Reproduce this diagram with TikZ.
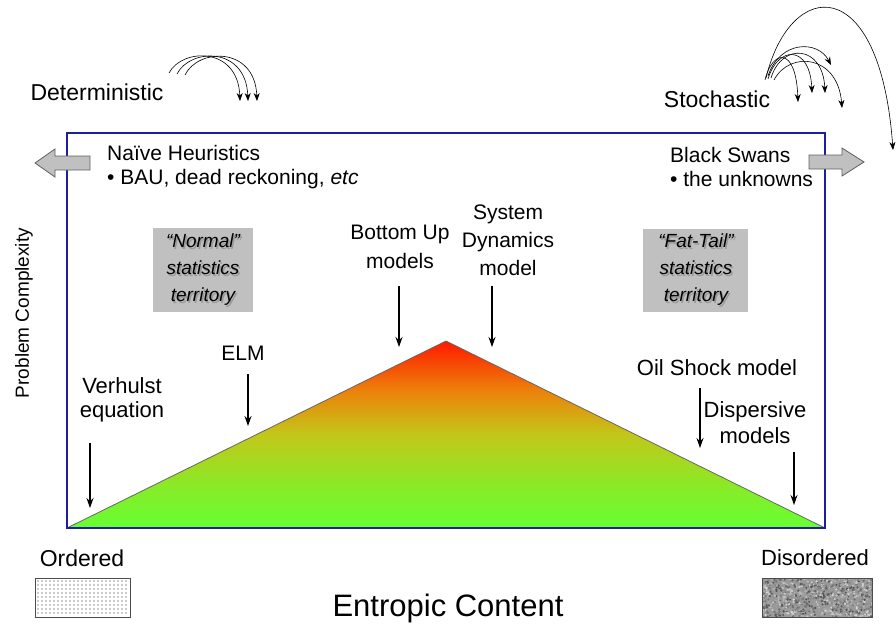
\documentclass[tikz,border=0pt]{standalone}
\usepackage{fontspec}
\setmainfont{Liberation Sans}
\usetikzlibrary{arrows.meta}
\definecolor{boxblue}{RGB}{30,30,160}
\definecolor{boxgray}{RGB}{192,192,192}
\definecolor{arrowedge}{RGB}{96,96,96}
\pgfdeclareverticalshading{trishade}{100bp}{%
  rgb(0bp)=(0.40,1.00,0.20);
  rgb(25bp)=(0.40,1.00,0.20);
  rgb(35bp)=(0.52,0.93,0.16);
  rgb(50bp)=(0.76,0.78,0.10);
  rgb(62bp)=(0.93,0.50,0.04);
  rgb(75bp)=(1.00,0.10,0.00);
  rgb(100bp)=(1.00,0.10,0.00)}
\begin{document}
\begin{tikzpicture}[x=1pt,y=-1pt,
  lbl/.style={align=center, inner sep=0pt, font=\fontsize{21}{26}\selectfont},
  biglbl/.style={inner sep=0pt, font=\fontsize{23}{27}\selectfont},
  ptr/.style={-{Stealth[length=10pt,width=7pt]}, line width=1.1pt},
  arcarrow/.style={-{Stealth[length=8pt,width=6pt]}, line width=0.6pt},
  stattext/.style={align=center, inner sep=0pt, font=\itshape\fontsize{19}{27}\selectfont},
  fatarrow/.style={draw=arrowedge, fill=boxgray, line width=0.8pt}]
\useasboundingbox (0,0) rectangle (896,629);

% triangle
\shade[shading=trishade]
  (67,528) -- (446,341) -- (825,528) -- cycle;
\draw[black!60, line width=0.8pt] (67,528) -- (446,341) -- (825,528);

% main frame
\draw[boxblue, line width=1.8pt] (67,133) rectangle (825,528);

% gray fat arrows
\draw[fatarrow] (35,163) -- (55,149) -- (55,156) -- (90,156) -- (90,170) -- (55,170) -- (55,177) -- cycle;
\draw[fatarrow] (864,162) -- (842,148) -- (842,155) -- (809,155) -- (809,169) -- (842,169) -- (842,176) -- cycle;

% top labels
\node[biglbl] (det) at (97,92) {Deterministic};
\node[biglbl] (sto) at (717,99) {Stochastic};

% deterministic arcs
\draw[arcarrow] (169,73) .. controls (182,48) and (238,46) .. (240,101);
\draw[arcarrow] (177,74) .. controls (190,48) and (246,46) .. (248,101);
\draw[arcarrow] (185,75) .. controls (198,48) and (255,46) .. (257,101);

% stochastic arcs
\draw[arcarrow] (765,80) .. controls (772,50) and (796,45) .. (798,102);
\draw[arcarrow] (768,79) .. controls (778,45) and (810,45) .. (812,93);
\draw[arcarrow] (771,78) .. controls (782,42) and (823,45) .. (825,93);
\draw[arcarrow] (774,80) .. controls (790,50) and (838,55) .. (842,108);
\draw[arcarrow] (768,76) .. controls (780,40) and (818,40) .. (831,65);
\draw[arcarrow] (766,78) .. controls (790,-22) and (880,-30) .. (893,150);

% heuristics / swans
\node[lbl, align=left, anchor=west] (naive) at (107,167) {Naïve Heuristics\\[-2pt]• BAU, dead reckoning, \textit{etc}};
\node[lbl, align=left, anchor=west] (swans) at (670,167) {Black Swans\\[-2pt]• the unknowns};

% axis labels
\node[inner sep=0pt, font=\fontsize{19}{22}\selectfont, rotate=90] (pc) at (24,313) {Problem Complexity};
\node[inner sep=0pt, font=\fontsize{31}{36}\selectfont] (ec) at (448,608) {Entropic Content};

% statistics boxes
\fill[boxgray] (153,228) rectangle (253,312);
\node[stattext, text=black!40] at (204.5,271.5) {“Normal”\\statistics\\territory};
\node[stattext] (normal) at (203,270) {“Normal”\\statistics\\territory};
\fill[boxgray] (643,229) rectangle (748,312);
\node[stattext, text=black!40] at (697.5,271.5) {“Fat-Tail”\\statistics\\territory};
\node[stattext] (fattail) at (696,270) {“Fat-Tail”\\statistics\\territory};

% model labels
\node[lbl, font=\fontsize{21}{29}\selectfont] (bu) at (400,247) {Bottom Up\\models};
\node[lbl, font=\fontsize{21}{28}\selectfont] (sd) at (508,240) {System\\Dynamics\\model};
\node[lbl] (elm) at (243,353) {ELM};
\node[lbl, font=\fontsize{22}{24}\selectfont] (vh) at (122,400) {Verhulst\\equation};
\node[lbl, font=\fontsize{22}{26}\selectfont] (osm) at (717,368) {Oil Shock model};
\node[lbl, font=\fontsize{22}{26}\selectfont] (disp) at (755,423) {Dispersive\\models};

% pointer arrows
\coordinate (vhA) at (90,443); \coordinate (vhB) at (90,508);
\coordinate (elmA) at (248,374); \coordinate (elmB) at (248,426);
\coordinate (buA) at (399,286); \coordinate (buB) at (399,347);
\coordinate (sdA) at (492,286); \coordinate (sdB) at (492,347);
\coordinate (osA) at (700,388); \coordinate (osB) at (700,448);
\coordinate (dpA) at (794,452); \coordinate (dpB) at (794,505);
\draw[ptr] (vhA) -- (vhB);
\draw[ptr] (elmA) -- (elmB);
\draw[ptr] (buA) -- (buB);
\draw[ptr] (sdA) -- (sdB);
\draw[ptr] (osA) -- (osB);
\draw[ptr] (dpA) -- (dpB);

% ordered / disordered
\node[biglbl] (ord) at (82,558) {Ordered};
\node[biglbl, font=\fontsize{22}{26}\selectfont] (dis) at (815,558) {Disordered};
\fill[white] (35,578) rectangle (130,617);
\foreach \px in {38,42,...,128}{
  \foreach \py in {581,585,...,615}{
    \fill[black!85] (\px,\py) circle (0.6);
  }
}
\draw[black!70, line width=0.8pt] (35,578) rectangle (130,617);
\begin{scope}
  \clip (762,578) rectangle (872,617);
  \fill[black!40] (762,578) rectangle (872,617);
  \pgfmathsetseed{11}
  \foreach \i in {1,...,900}{
    \pgfmathsetmacro{\xx}{762+110*rnd}
    \pgfmathsetmacro{\yy}{578+39*rnd}
    \pgfmathsetmacro{\cc}{int(15+55*rnd)}
    \fill[black!\cc] (\xx,\yy) circle (1.2);
  }
\end{scope}
\draw[black!70, line width=0.8pt] (762,578) rectangle (872,617);
\end{tikzpicture}
\end{document}
